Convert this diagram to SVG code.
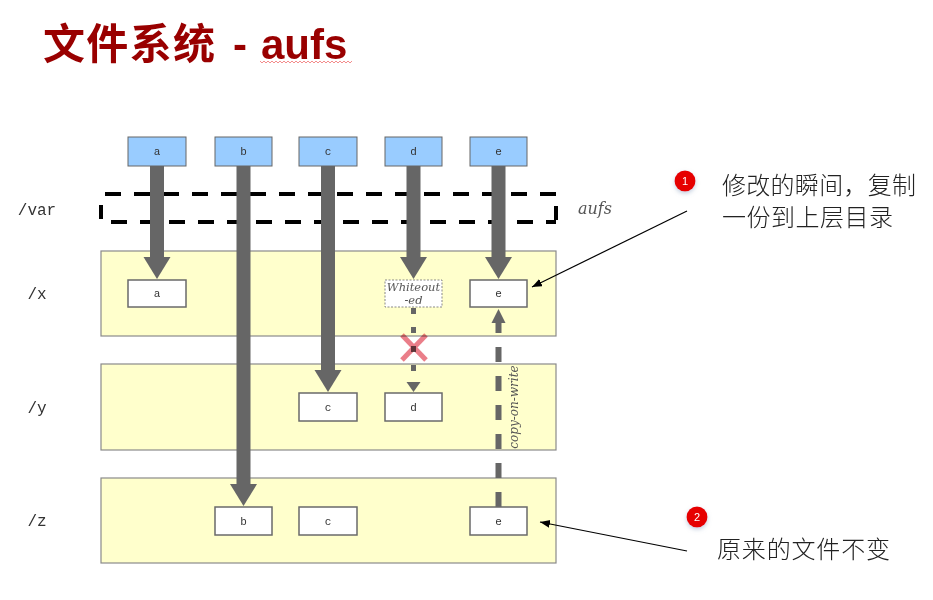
<svg xmlns="http://www.w3.org/2000/svg" width="933" height="600" viewBox="0 0 933 600">
<style>
.panel{fill:#ffffcc;stroke:#8a8a8a;stroke-width:1.2}
.blue{fill:#99ccff;stroke:#666;stroke-width:1}
.file{fill:#fff;stroke:#6a6a6a;stroke-width:1.5}
.lbl{font-family:"Liberation Mono",monospace;font-size:11px;fill:#333;text-anchor:middle}
.dir{font-family:"Liberation Mono",monospace;font-size:16px;fill:#333;text-anchor:middle}
.ital{font-family:"DejaVu Serif","Liberation Serif",serif;font-style:italic;fill:#555}
.big{stroke:#666;stroke-width:14;fill:none}
.varl{stroke:#000;stroke-width:4;stroke-dasharray:16 13;fill:none}
.note{font-family:"Noto Sans CJK SC",sans-serif;font-size:24px;fill:#222;font-weight:300}
.badge{fill:#e60000}
.badgetxt{font-family:"Liberation Sans",sans-serif;font-size:11px;fill:#fff;text-anchor:middle}
.ptr{stroke:#000;stroke-width:1.2;fill:none}
</style>
<defs>
<marker id="bighead" markerUnits="userSpaceOnUse" markerWidth="24" markerHeight="28" refX="2" refY="13.5" orient="auto">
<path d="M0,0 L22,13.5 L0,27 z" fill="#666"/>
</marker>
<marker id="ptrhead" markerUnits="userSpaceOnUse" markerWidth="12" markerHeight="10" refX="10" refY="4" orient="auto">
<path d="M0,0 L10,4 L0,8 z" fill="#000"/>
</marker>
<filter id="sh" x="-50%" y="-50%" width="200%" height="200%">
<feDropShadow dx="0" dy="2" stdDeviation="2" flood-color="#8aa0c0" flood-opacity="0.5"/>
</filter>
</defs>
<rect width="933" height="600" fill="#fff"/>

<g id="title">
<text y="59" font-family="Liberation Sans,'Noto Sans CJK SC',sans-serif" font-size="42" font-weight="bold" fill="#990000"><tspan x="43" textLength="172" lengthAdjust="spacing">文件系统</tspan><tspan x="233">-</tspan><tspan x="261">aufs</tspan></text>
<polyline points="260,61 262,63 264,61 266,63 268,61 270,63 272,61 274,63 276,61 278,63 280,61 282,63 284,61 286,63 288,61 290,63 292,61 294,63 296,61 298,63 300,61 302,63 304,61 306,63 308,61 310,63 312,61 314,63 316,61 318,63 320,61 322,63 324,61 326,63 328,61 330,63 332,61 334,63 336,61 338,63 340,61 342,63 344,61 346,63 348,61 350,63 352,61" fill="none" stroke="#f07070" stroke-width="0.8"/>
</g>

<g id="dir-labels">
<text class="dir" x="37" y="215">/var</text>
<text class="dir" x="37" y="299">/x</text>
<text class="dir" x="37" y="413">/y</text>
<text class="dir" x="37" y="526">/z</text>
</g>

<g id="layer-var">
<line class="varl" x1="105" y1="194" x2="556" y2="194"/>
<line class="varl" x1="111" y1="222" x2="556" y2="222"/>
<line x1="101" y1="205" x2="101" y2="219" stroke="#000" stroke-width="4"/>
<line x1="556" y1="206" x2="556" y2="220" stroke="#000" stroke-width="4"/>
<text class="ital" x="578" y="214" font-size="16">aufs</text>
</g>
<g id="layer-x"><rect class="panel" x="101" y="251" width="455" height="85"/></g>
<g id="layer-y"><rect class="panel" x="101" y="364" width="455" height="86"/></g>
<g id="layer-z"><rect class="panel" x="101" y="478" width="455" height="85"/></g>

<g id="connectors">
<line class="big" x1="157" y1="166" x2="157" y2="259" marker-end="url(#bighead)"/>
<line class="big" x1="243.5" y1="166" x2="243.5" y2="486" marker-end="url(#bighead)"/>
<line class="big" x1="328" y1="166" x2="328" y2="372" marker-end="url(#bighead)"/>
<line class="big" x1="413.5" y1="166" x2="413.5" y2="259" marker-end="url(#bighead)"/>
<line class="big" x1="498.5" y1="166" x2="498.5" y2="259" marker-end="url(#bighead)"/>
<line x1="413.5" y1="308" x2="413.5" y2="382" stroke="#666" stroke-width="5" stroke-dasharray="6 13"/>
<path d="M406.5,382 L420.5,382 L413.5,392 z" fill="#666"/>
<g style="mix-blend-mode:multiply" stroke="#e8707c" stroke-width="5" opacity="0.9">
<line x1="402" y1="335" x2="426" y2="360"/>
<line x1="426" y1="335" x2="402" y2="360"/>
</g>
<line x1="498.5" y1="507" x2="498.5" y2="323" stroke="#666" stroke-width="6" stroke-dasharray="15 14"/>
<path d="M491.5,323 L505.5,323 L498.5,309 z" fill="#666"/>
<text class="ital" font-size="12" transform="translate(518,407) rotate(-90)" text-anchor="middle">copy-on-write</text>
<line class="ptr" x1="687" y1="211" x2="532" y2="287" marker-end="url(#ptrhead)"/>
<line class="ptr" x1="687" y1="551" x2="540" y2="522" marker-end="url(#ptrhead)"/>
</g>

<g id="top-a"><rect class="blue" x="128" y="137" width="58" height="29"/><text class="lbl" x="157" y="155">a</text></g>
<g id="top-b"><rect class="blue" x="215" y="137" width="57" height="29"/><text class="lbl" x="243.5" y="155">b</text></g>
<g id="top-c"><rect class="blue" x="299" y="137" width="58" height="29"/><text class="lbl" x="328" y="155">c</text></g>
<g id="top-d"><rect class="blue" x="385" y="137" width="57" height="29"/><text class="lbl" x="413.5" y="155">d</text></g>
<g id="top-e"><rect class="blue" x="470" y="137" width="57" height="29"/><text class="lbl" x="498.5" y="155">e</text></g>

<g id="x-a"><rect class="file" x="128" y="280" width="58" height="27"/><text class="lbl" x="157" y="297">a</text></g>
<g id="x-whiteout"><rect x="385" y="280" width="57" height="27" fill="#fff" stroke="#888" stroke-width="1" stroke-dasharray="2 1.5"/>
<text class="ital" x="413.5" y="291" font-size="11.5" text-anchor="middle">Whiteout</text>
<text class="ital" x="413.5" y="304" font-size="11.5" text-anchor="middle">-ed</text></g>
<g id="x-e"><rect class="file" x="470" y="280" width="57" height="27"/><text class="lbl" x="498.5" y="297">e</text></g>

<g id="y-c"><rect class="file" x="299" y="393" width="58" height="28"/><text class="lbl" x="328" y="411">c</text></g>
<g id="y-d"><rect class="file" x="385" y="393" width="57" height="28"/><text class="lbl" x="413.5" y="411">d</text></g>

<g id="z-b"><rect class="file" x="215" y="507" width="57" height="28"/><text class="lbl" x="243.5" y="525">b</text></g>
<g id="z-c"><rect class="file" x="299" y="507" width="58" height="28"/><text class="lbl" x="328" y="525">c</text></g>
<g id="z-e"><rect class="file" x="470" y="507" width="57" height="28"/><text class="lbl" x="498.5" y="525">e</text></g>

<g id="note-1">
<circle class="badge" cx="685" cy="181" r="10.5" filter="url(#sh)"/>
<text class="badgetxt" x="685" y="185">1</text>
<text class="note" x="722" y="194" font-size="21.5" textLength="194" lengthAdjust="spacing">修改的瞬间，复制</text>
<text class="note" x="722" y="226" font-size="21.5" textLength="171" lengthAdjust="spacing">一份到上层目录</text>
</g>
<g id="note-2">
<circle class="badge" cx="697" cy="517" r="10.5" filter="url(#sh)"/>
<text class="badgetxt" x="697" y="521">2</text>
<text class="note" x="717" y="558" textLength="173" lengthAdjust="spacing">原来的文件不变</text>
</g>
</svg>
